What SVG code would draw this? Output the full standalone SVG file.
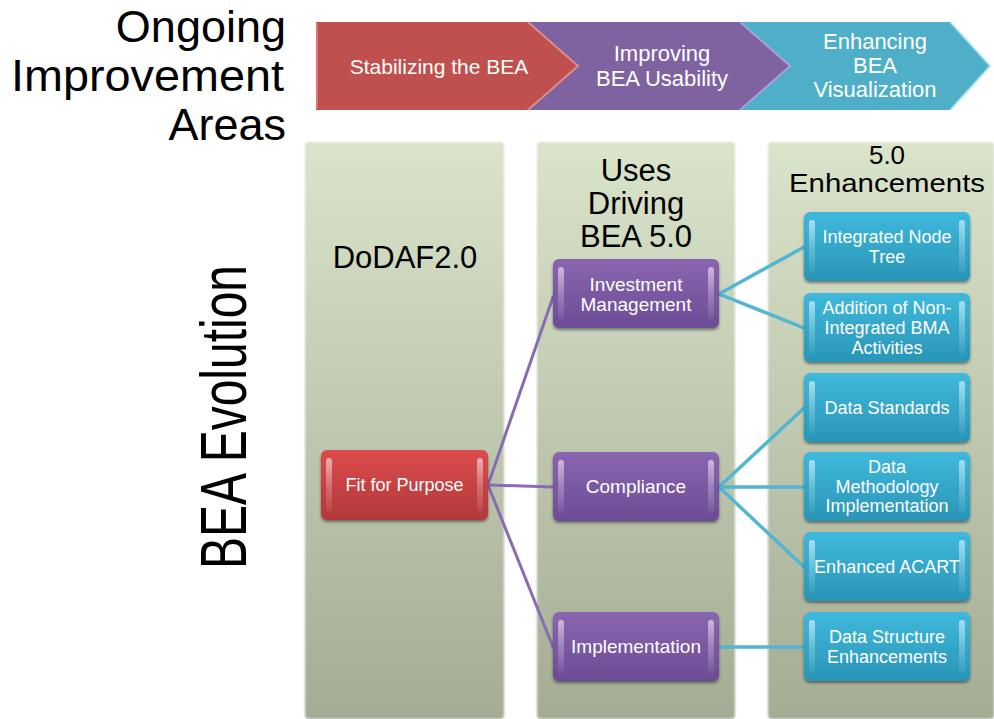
<svg xmlns="http://www.w3.org/2000/svg" width="994" height="719" viewBox="0 0 994 719">
<style>
text{font-family:"Liberation Sans",Arial,sans-serif}
.big{fill:#000;font-size:45px}
.hdr{fill:#000;font-size:31px;text-anchor:middle}
.chev{fill:#fff;font-size:22px;text-anchor:middle}
.nt{fill:#fff;text-anchor:middle}
.red .nt{font-size:18px}
.pur .nt{font-size:19px}
.blu .nt{font-size:18px}
.hl{fill:url(#hlg)}
.pl{stroke:#8A6CB2;stroke-width:3;fill:none;stroke-linecap:round}
.bl{stroke:#52B6D2;stroke-width:3.5;fill:none;stroke-linecap:round}
</style>
<defs>
<linearGradient id="colg" x1="0" y1="0" x2="0" y2="1">
<stop offset="0" stop-color="#DAE4CB"/>
<stop offset="1" stop-color="#A4AC94"/>
</linearGradient>
<linearGradient id="redg" x1="0" y1="0" x2="0" y2="1">
<stop offset="0" stop-color="#DC4B4B"/>
<stop offset="1" stop-color="#B2383A"/>
</linearGradient>
<linearGradient id="purg" x1="0" y1="0" x2="0" y2="1">
<stop offset="0" stop-color="#8A66B0"/>
<stop offset="1" stop-color="#6C4C95"/>
</linearGradient>
<linearGradient id="blug" x1="0" y1="0" x2="0" y2="1">
<stop offset="0" stop-color="#3FB9DC"/>
<stop offset="1" stop-color="#2995B7"/>
</linearGradient>
<linearGradient id="hlg" x1="0" y1="0" x2="0" y2="1">
<stop offset="0" stop-color="#fff" stop-opacity="0.55"/>
<stop offset="0.5" stop-color="#fff" stop-opacity="0.25"/>
<stop offset="1" stop-color="#fff" stop-opacity="0.05"/>
</linearGradient>
<filter id="sh" x="-10%" y="-10%" width="120%" height="130%">
<feGaussianBlur in="SourceAlpha" stdDeviation="1.5"/>
<feOffset dy="2"/>
<feComponentTransfer><feFuncA type="linear" slope="0.45"/></feComponentTransfer>
<feMerge><feMergeNode/><feMergeNode in="SourceGraphic"/></feMerge>
</filter>
<filter id="soft" x="-5%" y="-5%" width="110%" height="110%">
<feGaussianBlur stdDeviation="1.2"/>
</filter>
</defs>
<rect width="994" height="719" fill="#fff"/>

<g id="title-ongoing">
<text class="big" text-anchor="end" x="286" y="42">Ongoing</text>
<text class="big" text-anchor="end" x="284" y="91" textLength="273" lengthAdjust="spacingAndGlyphs">Improvement</text>
<text class="big" text-anchor="end" x="286" y="140">Areas</text>
</g>
<g id="title-evolution">
<text class="big" style="font-size:64px" text-anchor="middle" transform="translate(246,417) rotate(-90)" textLength="304" lengthAdjust="spacingAndGlyphs">BEA Evolution</text>
</g>

<g id="chevron-teal">
<polygon points="738,22 950,22 990,66 950,110 738,110 790,66" fill="#4FAFC8"/>
<polyline points="950,22 990,66 950,110" fill="none" stroke="#9EE3F2" stroke-width="2" opacity="0.7"/>
<text class="chev" x="875" y="49">Enhancing</text>
<text class="chev" x="875" y="73">BEA</text>
<text class="chev" x="875" y="97">Visualization</text>
</g>
<g id="chevron-purple">
<polygon points="528,22 740,22 790,66 740,110 528,110 578,66" fill="#7F62A0"/>
<polyline points="740,22 790,66 740,110" fill="none" stroke="#C3A8E6" stroke-width="2" opacity="0.7"/>
<text class="chev" x="662" y="61">Improving</text>
<text class="chev" x="662" y="86">BEA Usability</text>
</g>
<g id="chevron-red">
<polygon points="316,22 528,22 578,66 528,110 316,110" fill="#C0504D"/>
<polyline points="528,22 578,66 528,110" fill="none" stroke="#F29B98" stroke-width="2" opacity="0.7"/>
<line x1="317" y1="23" x2="317" y2="109" stroke="#E89090" stroke-width="2" opacity="0.6"/>
<text class="chev" x="439" y="74" style="font-size:21px">Stabilizing the BEA</text>
</g>

<g id="col-dodaf">
<rect x="305" y="142" width="199" height="577" rx="4" fill="url(#colg)" filter="url(#soft)"/>
<text class="hdr" x="405" y="268">DoDAF2.0</text>
</g>
<g id="col-uses">
<rect x="537" y="142" width="198" height="577" rx="4" fill="url(#colg)" filter="url(#soft)"/>
<text class="hdr" x="636" y="181">Uses</text>
<text class="hdr" x="636" y="214">Driving</text>
<text class="hdr" x="636" y="247">BEA 5.0</text>
</g>
<g id="col-enh">
<rect x="768" y="142" width="226" height="577" rx="4" fill="url(#colg)" filter="url(#soft)"/>
<text class="hdr" x="887" y="164" style="font-size:26px">5.0</text>
<text class="hdr" x="887" y="192" style="font-size:26px" textLength="196" lengthAdjust="spacingAndGlyphs">Enhancements</text>
</g>

<g id="connectors">
<path class="pl" d="M488,485 L553,297"/>
<path class="pl" d="M488,485 L553,487"/>
<path class="pl" d="M488,485 L553,647"/>
<path class="bl" d="M719,294 L804,247"/>
<path class="bl" d="M719,294 L804,328"/>
<path class="bl" d="M719,487 L804,408"/>
<path class="bl" d="M719,487 L804,487"/>
<path class="bl" d="M719,487 L804,567"/>
<path class="bl" d="M719,647 L804,647"/>
</g>

<g id="n-fit" class="red">
<rect x="321" y="450" width="167" height="70" rx="6" fill="url(#redg)" filter="url(#sh)"/>
<rect x="326" y="458" width="6" height="54" rx="3" class="hl"/>
<rect x="477" y="458" width="6" height="54" rx="3" class="hl"/>
<text class="nt" x="404.5" y="491">Fit for Purpose</text>
</g>

<g id="n-inv" class="pur">
<rect x="553" y="259" width="166" height="69" rx="6" fill="url(#purg)" filter="url(#sh)"/>
<rect x="558" y="267" width="6" height="53" rx="3" class="hl"/>
<rect x="708" y="267" width="6" height="53" rx="3" class="hl"/>
<text class="nt" x="636" y="291">Investment</text>
<text class="nt" x="636" y="311">Management</text>
</g>
<g id="n-comp" class="pur">
<rect x="553" y="452" width="166" height="69" rx="6" fill="url(#purg)" filter="url(#sh)"/>
<rect x="558" y="460" width="6" height="53" rx="3" class="hl"/>
<rect x="708" y="460" width="6" height="53" rx="3" class="hl"/>
<text class="nt" x="636" y="493">Compliance</text>
</g>
<g id="n-impl" class="pur">
<rect x="553" y="612" width="166" height="69" rx="6" fill="url(#purg)" filter="url(#sh)"/>
<rect x="558" y="620" width="6" height="53" rx="3" class="hl"/>
<rect x="708" y="620" width="6" height="53" rx="3" class="hl"/>
<text class="nt" x="636" y="653">Implementation</text>
</g>

<g id="n-int" class="blu">
<rect x="804" y="212" width="166" height="69" rx="6" fill="url(#blug)" filter="url(#sh)"/>
<rect x="809" y="220" width="6" height="53" rx="3" class="hl"/>
<rect x="959" y="220" width="6" height="53" rx="3" class="hl"/>
<text class="nt" x="887" y="243">Integrated Node</text>
<text class="nt" x="887" y="263">Tree</text>
</g>
<g id="n-add" class="blu">
<rect x="804" y="293" width="166" height="69" rx="6" fill="url(#blug)" filter="url(#sh)"/>
<rect x="809" y="301" width="6" height="53" rx="3" class="hl"/>
<rect x="959" y="301" width="6" height="53" rx="3" class="hl"/>
<text class="nt" x="887" y="314">Addition of Non-</text>
<text class="nt" x="887" y="334">Integrated BMA</text>
<text class="nt" x="887" y="354">Activities</text>
</g>
<g id="n-std" class="blu">
<rect x="804" y="373" width="166" height="69" rx="6" fill="url(#blug)" filter="url(#sh)"/>
<rect x="809" y="381" width="6" height="53" rx="3" class="hl"/>
<rect x="959" y="381" width="6" height="53" rx="3" class="hl"/>
<text class="nt" x="887" y="414">Data Standards</text>
</g>
<g id="n-meth" class="blu">
<rect x="804" y="452" width="166" height="69" rx="6" fill="url(#blug)" filter="url(#sh)"/>
<rect x="809" y="460" width="6" height="53" rx="3" class="hl"/>
<rect x="959" y="460" width="6" height="53" rx="3" class="hl"/>
<text class="nt" x="887" y="473">Data</text>
<text class="nt" x="887" y="493">Methodology</text>
<text class="nt" x="887" y="512">Implementation</text>
</g>
<g id="n-acart" class="blu">
<rect x="804" y="532" width="166" height="69" rx="6" fill="url(#blug)" filter="url(#sh)"/>
<rect x="809" y="540" width="6" height="53" rx="3" class="hl"/>
<rect x="959" y="540" width="6" height="53" rx="3" class="hl"/>
<text class="nt" x="887" y="573">Enhanced ACART</text>
</g>
<g id="n-struct" class="blu">
<rect x="804" y="612" width="166" height="69" rx="6" fill="url(#blug)" filter="url(#sh)"/>
<rect x="809" y="620" width="6" height="53" rx="3" class="hl"/>
<rect x="959" y="620" width="6" height="53" rx="3" class="hl"/>
<text class="nt" x="887" y="643">Data Structure</text>
<text class="nt" x="887" y="663">Enhancements</text>
</g>
</svg>
